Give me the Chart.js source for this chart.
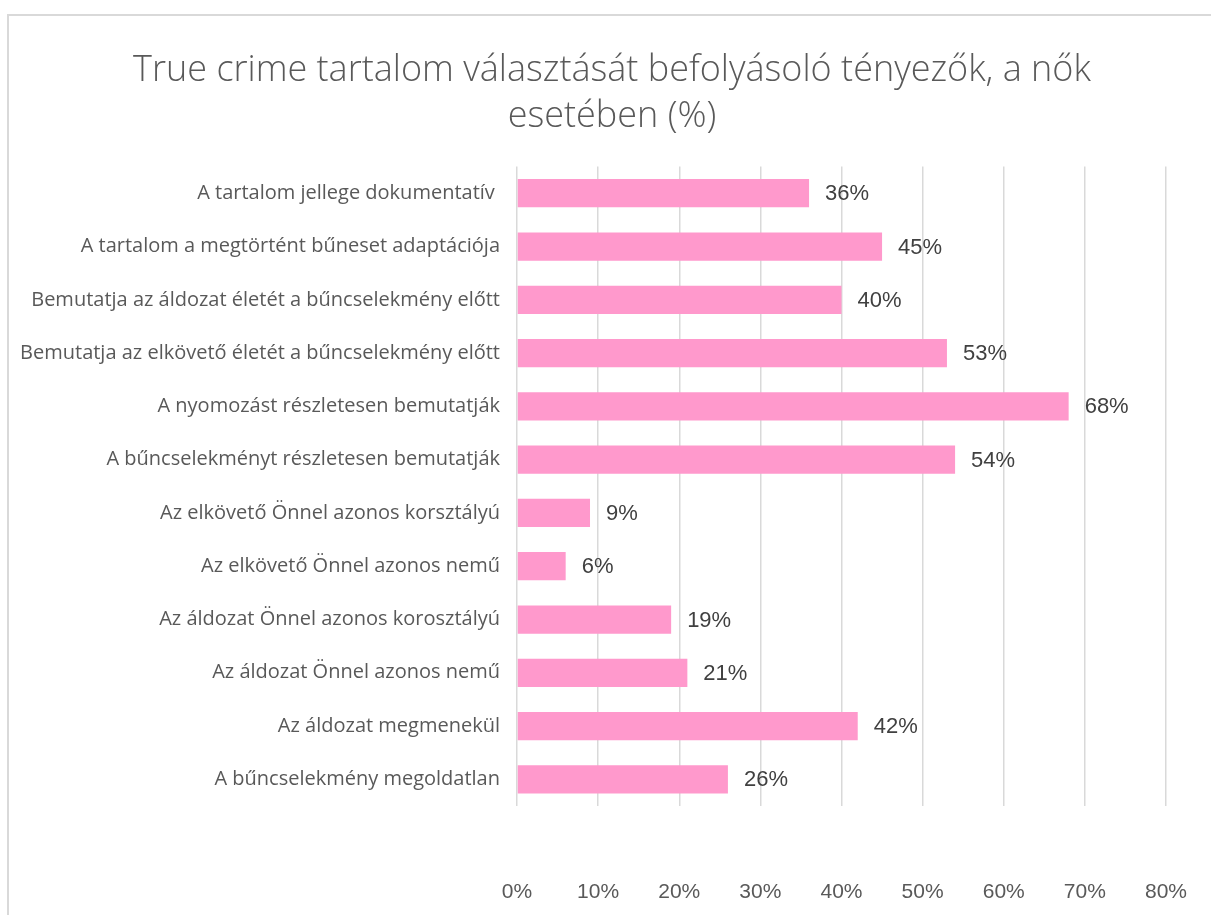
<!DOCTYPE html>
<html>
<head>
<meta charset="utf-8">
<script src="https://cdn.jsdelivr.net/npm/chart.js@4"></script>
<style>
  body { margin: 0; background: #fff; overflow: hidden; }
  #frame { position: absolute; left: 7px; top: 14px; width: 1300px; height: 1000px; border: 2px solid #d9d9d9; }
  #wrap { position: absolute; left: 0; top: 0; width: 1211px; height: 915px; }
</style>
</head>
<body>
<div id="frame"></div>
<div id="wrap"><canvas id="barChart" width="1211" height="915"></canvas></div>
<script>
var titleLines = ['True crime tartalom választását befolyásoló tényezők, a nők', 'esetében (%)'];
var categories = [
  'A tartalom jellege dokumentatív ',
  'A tartalom a megtörtént bűneset adaptációja',
  'Bemutatja az áldozat életét a bűncselekmény előtt',
  'Bemutatja az elkövető életét a bűncselekmény előtt',
  'A nyomozást részletesen bemutatják',
  'A bűncselekményt részletesen bemutatják',
  'Az elkövető Önnel azonos korsztályú',
  'Az elkövető Önnel azonos nemű',
  'Az áldozat Önnel azonos korosztályú',
  'Az áldozat Önnel azonos nemű',
  'Az áldozat megmenekül',
  'A bűncselekmény megoldatlan'
];
var values = [36, 45, 40, 53, 68, 54, 9, 6, 19, 21, 42, 26];
var tickValues = [0, 10, 20, 30, 40, 50, 60, 70, 80];

// draws "36%" etc. right of each bar
var barLabels = {
  id: 'barLabels',
  afterDatasetsDraw(chart) {
    const ctx = chart.ctx;
    const meta = chart.getDatasetMeta(0);
    ctx.save();
    ctx.font = '22px "Liberation Sans", Arial, sans-serif';
    ctx.fillStyle = '#404040';
    ctx.textAlign = 'left';
    ctx.textBaseline = 'middle';
    meta.data.forEach((bar, i) => {
      ctx.fillText(values[i] + '%', bar.x + 16, bar.y + 1);
    });
    ctx.restore();
  }
};

const ctx = document.getElementById('barChart').getContext('2d');
new Chart(ctx, {
  type: 'bar',
  data: {
    labels: categories,
    datasets: [{
      data: values,
      backgroundColor: '#FF99CC',
      borderWidth: 0,
      categoryPercentage: 1,
      barPercentage: 0.53
    }]
  },
  options: {
    indexAxis: 'y',
    responsive: false,
    animation: false,
    layout: { padding: { left: 13, right: 0, top: 0, bottom: 0 } },
    plugins: {
      legend: { display: false },
      tooltip: { enabled: false },
      title: {
        display: true,
        text: titleLines,
        color: '#595959',
        font: { family: '"Open Sans", "Noto Sans", sans-serif', size: 36, weight: '300', lineHeight: 1.3 },
        padding: { top: 47, bottom: 26 }
      }
    },
    scales: {
      x: {
        min: 0,
        max: 80,
        afterBuildTicks(scale) { scale.ticks = tickValues.map(v => ({ value: v })); },
        afterFit(scale) {
          scale.height = 915 - 806;
          scale.paddingLeft = 0;
          scale.paddingRight = 45;
        },
        border: { display: false },
        grid: { color: '#d9d9d9', lineWidth: 1.5, drawTicks: false },
        ticks: {
          padding: 74,
          color: '#595959',
          font: { family: '"Liberation Sans", Arial, sans-serif', size: 21 },
          callback: v => v + '%'
        }
      },
      y: {
        afterFit(scale) { scale.width = 504; },
        border: { display: false },
        grid: { display: false, drawTicks: false },
        ticks: {
          padding: 17,
          color: '#595959',
          font: { family: '"Open Sans", "Noto Sans", sans-serif', size: 20 }
        }
      }
    }
  },
  plugins: [barLabels]
});
</script>
</body>
</html>
